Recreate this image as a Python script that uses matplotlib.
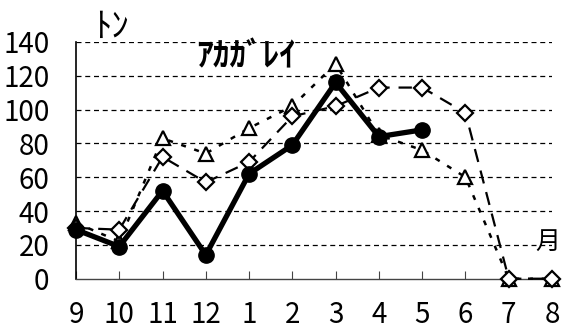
import matplotlib
matplotlib.use('Agg')
import matplotlib.pyplot as plt

plt.rcParams['font.family'] = ['Noto Sans CJK JP', 'DejaVu Sans']

months = ['9', '10', '11', '12', '1', '2', '3', '4', '5', '6', '7', '8']
this_year = [29, 19, 52, 14, 62, 79, 116, 84, 88]            # filled circles
last_year = [30, 29, 72, 57, 69, 96, 102, 113, 113, 98, 0, 0]  # diamonds, long dash
avg_year = [33, 22, 83, 74, 89, 102, 127, 85, 76, 60, 0, 0]    # triangles, dotted

fig = plt.figure(figsize=(5.64, 3.29), dpi=100)
ax = fig.add_axes([76/564, 1 - 278.7/329, 476/564, 236.8/329])

x = list(range(len(months)))

ax.plot(x, avg_year, color='black', lw=1.8, dashes=(2, 3.5), marker='^', ms=10,
        mfc='white', mec='black', mew=1.6, clip_on=False, zorder=3)
ax.plot(x, last_year, color='black', lw=1.6, dashes=(6, 4), marker='D', ms=8,
        mfc='white', mec='black', mew=1.6, clip_on=False, zorder=4)
ax.plot(x[:len(this_year)], this_year, color='black', lw=3.8, marker='o', ms=11,
        mfc='black', mec='black', clip_on=False, zorder=5)

ax.set_xlim(0, 11)
ax.set_ylim(0, 140)
ax.set_yticks(range(0, 141, 20))
ax.set_xticks(x)
ax.set_xticklabels(months)
for v in range(20, 141, 20):
    ax.axhline(v, color='black', lw=0.9, dashes=(4, 3), zorder=1)

for s in ['top', 'right']:
    ax.spines[s].set_visible(False)
ax.spines['left'].set_linewidth(1.2)
ax.spines['bottom'].set_color('#444444')
ax.spines['bottom'].set_linewidth(1.0)

ax.tick_params(axis='y', length=0, pad=19, labelsize=20)
ax.tick_params(axis='x', direction='in', length=6, color='#444444', pad=15, labelsize=20)

ax.text(3.93, 131, 'ｱｶｶﾞﾚｲ', fontsize=24, fontweight='bold', ha='center', va='center')
ax.text(10.9, 22, '月', fontsize=18, ha='center', va='center')
fig.text(111/564, 1 - 27/329, 'ﾄﾝ', fontsize=25, ha='center', va='center')

fig.savefig('out.png', dpi=100)
